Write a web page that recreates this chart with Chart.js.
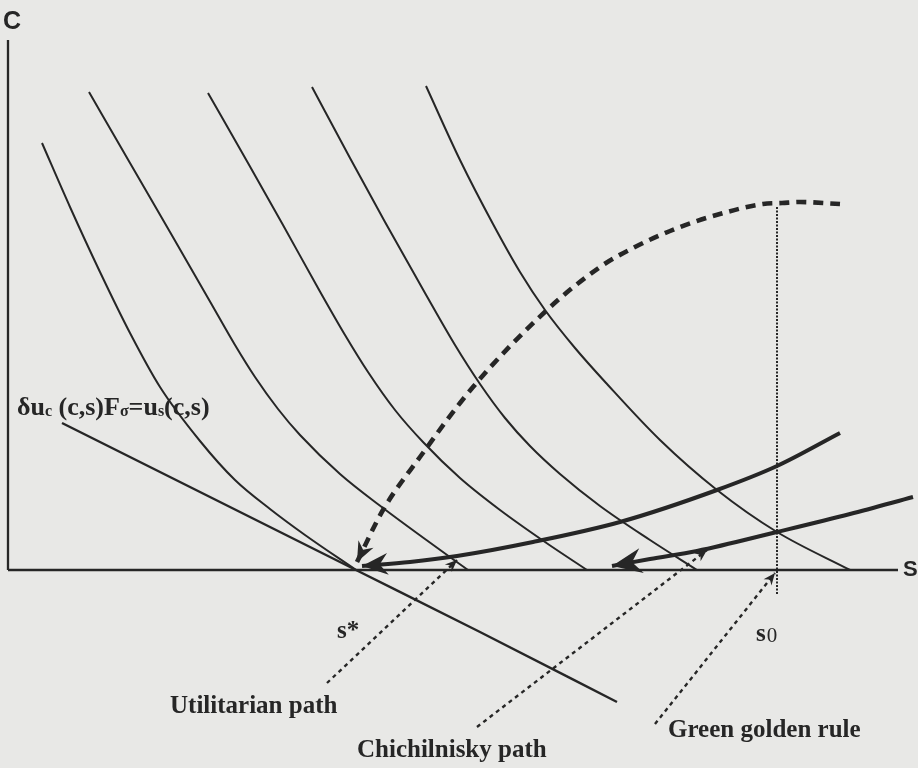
<!DOCTYPE html>
<html>
<head>
<meta charset="utf-8">
<script src="https://cdn.jsdelivr.net/npm/chart.js@4.4.0/dist/chart.umd.min.js"></script>
<style>
  html, body { margin: 0; padding: 0; background: #e8e8e6; }
  #wrap { width: 918px; height: 768px; position: relative; }
</style>
</head>
<body>
<div id="wrap"><canvas id="fig"></canvas></div>
<script>
// figure units: s to the right, c upwards (axes run 0..89 and 0..53)
var axisS = [[0, 0], [89, 0]];
var axisC = [[0, 0], [0, 53]];

// indifference curves, left to right
var curve1 = [[3.4,42.7],[6.2,36.3],[9.2,29.8],[12.2,23.7],[15.2,18.3],[19.2,12.9],[22.7,9.0],[26.2,6.1],[29.7,3.5],[34.8,0]];
var curve2 = [[8.1,47.8],[12.2,40.7],[16.2,33.8],[20.4,26.5],[22.7,22.5],[24.7,19.3],[27.0,16.1],[29.2,13.5],[33.2,9.6],[37.5,6.2],[41.7,3.1],[46.0,0]];
var curve3 = [[20.0,47.7],[24.0,40.7],[27.5,34.5],[31.0,28.2],[33.7,23.5],[36.0,19.8],[38.7,16.0],[41.5,12.8],[45.2,9.2],[49.2,6.0],[53.7,2.8],[57.9,0]];
var curve4 = [[30.4,48.3],[34.2,41.2],[37.7,34.8],[41.7,27.7],[44.7,22.5],[47.2,18.6],[49.7,15.2],[52.2,12.4],[55.2,9.6],[59.2,6.4],[64.2,3.0],[68.9,0]];
var curve5 = [[41.8,48.4],[45.2,41.0],[48.5,34.6],[51.2,29.8],[53.7,26.0],[56.7,22.2],[59.9,18.6],[65.2,13.0],[70.9,8.0],[76.9,3.8],[84.2,0]];

// locus  δuc(c,s)Fσ = us(c,s)
var locus = [[5.4,14.7],[20.2,7.3],[34.8,0],[47.2,-6.2],[60.9,-13.2]];

// dashed path into s*
var dashedPath = [[34.9,0.8],[37.5,6.0],[41.2,11.3],[46.5,18.3],[53.9,26.0],[59.2,30.3],[62.5,32.2],[67.2,34.3],[71.9,35.8],[75.5,36.6],[77.4,36.7],[79.2,36.8],[83.2,36.6]];

// heavy paths
var upperPath = [[35.4,0.4],[40.2,0.8],[44.9,1.4],[52.5,2.8],[61.2,4.8],[70.9,8.0],[76.9,10.4],[83.2,13.7]];
var lowerPath = [[60.4,0.4],[64.2,1.1],[68.9,1.9],[76.9,3.8],[84.2,5.6],[90.5,7.3]];

// label leaders and the s0 marker
var leaderUtil = [[31.9,-11.3],[44.9,1.0]];
var leaderChich = [[46.9,-15.7],[69.9,2.0]];
var leaderGreen = [[64.7,-15.4],[76.7,-0.3]];
var s0Line = [[76.9,36.3],[76.9,-2.4]];

var labels = [
  { text: 'C', x: -0.5, y: 54.15, font: 'bold 25px "Liberation Sans"' },
  { text: 'S', x: 89.5, y: -0.6, font: 'bold 22px "Liberation Sans"' },
  { text: 's*', x: 32.9, y: -6.8, font: 'bold 25px "Liberation Serif"' },
  { text: 'Utilitarian path', x: 16.2, y: -14.3, font: 'bold 25px "Liberation Serif"' },
  { text: 'Chichilnisky path', x: 34.9, y: -18.7, font: 'bold 25px "Liberation Serif"' },
  { text: 'Green golden rule', x: 66.0, y: -16.7, font: 'bold 25px "Liberation Serif"' }
];

var ink = '#262626';

function pts(a) {
  return a.map(function (p) { return { x: p[0], y: p[1] }; });
}

function line(data, width, extra) {
  var ds = {
    data: pts(data),
    showLine: true,
    borderColor: ink,
    backgroundColor: ink,
    borderWidth: width,
    pointRadius: 0,
    fill: false,
    tension: 0
  };
  for (var k in extra) ds[k] = extra[k];
  return ds;
}

var smooth = { cubicInterpolationMode: 'monotone' };

var arrows = {
  id: 'arrows',
  afterDatasetsDraw: function (chart) {
    var ctx = chart.ctx;
    chart.data.datasets.forEach(function (ds, i) {
      if (!ds.arrow) return;
      var p = chart.getDatasetMeta(i).data;
      var a, b;
      if (ds.arrow === 'start') { a = p[0]; b = p[1]; }
      else { a = p[p.length - 1]; b = p[p.length - 2]; }
      var ang = Math.atan2(a.y - b.y, a.x - b.x);
      var L = ds.arrowSize, W = L * 0.42;
      ctx.save();
      ctx.translate(a.x, a.y);
      ctx.rotate(ang);
      ctx.fillStyle = ink;
      ctx.beginPath();
      ctx.moveTo(0, 0);
      ctx.lineTo(-L, -W);
      ctx.lineTo(-L * 0.68, 0);
      ctx.lineTo(-L, W);
      ctx.closePath();
      ctx.fill();
      ctx.restore();
    });
  }
};

var texts = {
  id: 'texts',
  afterDraw: function (chart) {
    var ctx = chart.ctx, xs = chart.scales.x, ys = chart.scales.y;
    ctx.save();
    ctx.fillStyle = ink;
    ctx.textBaseline = 'alphabetic';
    ctx.textAlign = 'left';
    labels.forEach(function (l) {
      ctx.font = l.font;
      ctx.fillText(l.text, xs.getPixelForValue(l.x), ys.getPixelForValue(l.y));
    });

    // s0
    var x = xs.getPixelForValue(74.8), y = ys.getPixelForValue(-7.1);
    ctx.font = 'bold 25px "Liberation Serif"';
    ctx.fillText('s', x, y);
    x += ctx.measureText('s').width + 1;
    ctx.font = '21px "Liberation Serif"';
    ctx.fillText('0', x, y + 1);

    // formula with subscripts
    var big = 'bold 26px "Liberation Serif"', sub = 'bold 16px "Liberation Serif"';
    var parts = [
      ['\u03b4u', big, 0], ['c', sub, 1], [' (c,s)F', big, 0], ['\u03c3', sub, 1],
      ['=u', big, 0], ['s', sub, 1], ['(c,s)', big, 0]
    ];
    x = xs.getPixelForValue(0.9);
    y = ys.getPixelForValue(15.5);
    parts.forEach(function (p) {
      ctx.font = p[1];
      ctx.fillText(p[0], x, y + p[2]);
      x += ctx.measureText(p[0]).width;
    });
    ctx.restore();
  }
};

new Chart(document.getElementById('fig'), {
  type: 'scatter',
  data: {
    datasets: [
      line(axisS, 2.3),
      line(axisC, 2.3),
      line(curve1, 2, smooth),
      line(curve2, 2, smooth),
      line(curve3, 2, smooth),
      line(curve4, 2, smooth),
      line(curve5, 2, smooth),
      line(locus, 2.4, smooth),
      line(s0Line, 2, { borderDash: [2, 1.5] }),
      line(dashedPath, 4.6, { cubicInterpolationMode: 'monotone', borderDash: [10, 7], arrow: 'start', arrowSize: 20 }),
      line(upperPath, 4, { cubicInterpolationMode: 'monotone', arrow: 'start', arrowSize: 26 }),
      line(lowerPath, 4, { cubicInterpolationMode: 'monotone', arrow: 'start', arrowSize: 30 }),
      line(leaderUtil, 2.4, { borderDash: [4, 4], arrow: 'end', arrowSize: 12 }),
      line(leaderChich, 2.4, { borderDash: [4, 4], arrow: 'end', arrowSize: 12 }),
      line(leaderGreen, 2.4, { borderDash: [4, 4], arrow: 'end', arrowSize: 12 })
    ]
  },
  options: {
    responsive: true,
    maintainAspectRatio: false,
    animation: false,
    layout: { padding: 0 },
    plugins: { legend: { display: false }, tooltip: { enabled: false } },
    scales: {
      x: { type: 'linear', display: false, min: -0.8, max: 91.0 },
      y: { type: 'linear', display: false, min: -19.8, max: 57.0 }
    }
  },
  plugins: [arrows, texts]
});
</script>
</body>
</html>
